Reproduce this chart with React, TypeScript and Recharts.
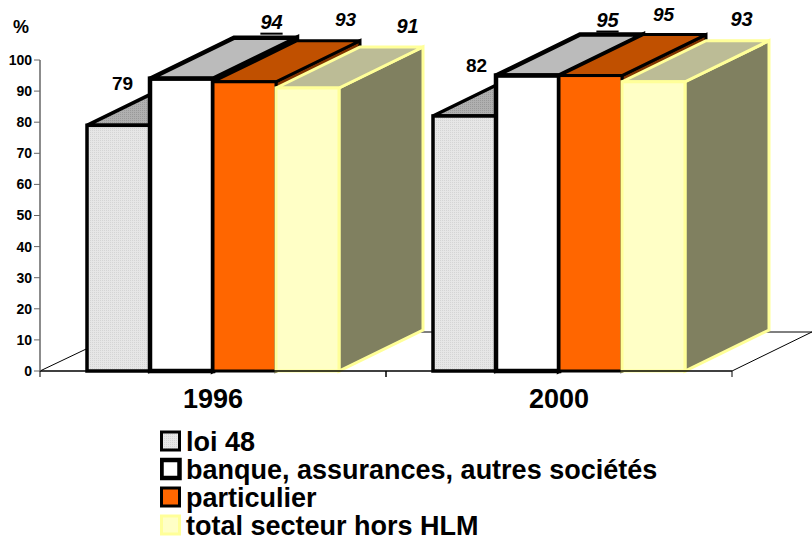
import { Bar, BarChart, LabelList, Legend, XAxis, YAxis } from "recharts";

const FONT = "'Liberation Sans', Arial, sans-serif";

const years = ["1996", "2000"];
const loi48 = [79, 82];
const banque = [94, 95];
const particulier = [93, 95];
const totalHorsHlm = [91, 93];
const yTicks = [0, 10, 20, 30, 40, 50, 60, 70, 80, 90, 100];

const chartData = years.map((year, i) => ({
    year,
    loi48: loi48[i],
    banque: banque[i],
    particulier: particulier[i],
    totalHorsHlm: totalHorsHlm[i],
}));

// depth of the fake 3D extrusion
const DEPTH_X = 84;
const DEPTH_Y = -41;
const BAND = 346;

const seriesList = [
    {
        key: "loi48",
        name: "loi 48",
        front: "url(#dotsLight)",
        top: "url(#dotsDark)",
        side: "#999999",
        stroke: "#000000",
        strokeWidth: 3.5,
        legendStroke: 3,
        labelFont: { size: 19, italic: false, underline: false },
        labelShift: [[4, -42], [12, -50]],
    },
    {
        key: "banque",
        name: "banque, assurances, autres sociétés",
        front: "#ffffff",
        top: "#bbbbbb",
        side: "#808080",
        stroke: "#000000",
        strokeWidth: 4.5,
        legendStroke: 4.5,
        labelFont: { size: 20, italic: true, underline: true },
        labelShift: [[90, -57], [80, -56]],
    },
    {
        key: "particulier",
        name: "particulier",
        front: "#ff6600",
        top: "#c05000",
        side: "#803300",
        stroke: "#000000",
        strokeWidth: 3,
        legendStroke: 3,
        labelFont: { size: 19, italic: true, underline: false },
        labelShift: [[101, -62], [73, -61]],
    },
    {
        key: "totalHorsHlm",
        name: "total secteur hors HLM",
        front: "#ffffc6",
        top: "#bcbc96",
        side: "#808060",
        stroke: "#ffff99",
        strokeWidth: 3,
        legendStroke: 3,
        labelFont: { size: 20, italic: true, underline: false },
        labelShift: [[100, -62], [88, -63]],
    },
];

type Series = (typeof seriesList)[number];

function box3d(series: Series) {
    return function Box(props: any) {
        const { x, y, width, height } = props;
        const right = x + width;
        const bottom = y + height;
        const line = {
            stroke: series.stroke,
            strokeWidth: series.strokeWidth,
            strokeLinejoin: "miter" as const,
        };
        return (
            <g>
                <path
                    d={`M${right},${y} L${right + DEPTH_X},${y + DEPTH_Y} L${right + DEPTH_X},${bottom + DEPTH_Y} L${right},${bottom} Z`}
                    fill={series.side}
                    {...line}
                />
                <path
                    d={`M${x},${y} L${x + DEPTH_X},${y + DEPTH_Y} L${right + DEPTH_X},${y + DEPTH_Y} L${right},${y} Z`}
                    fill={series.top}
                    {...line}
                />
                <rect x={x} y={y} width={width} height={height} fill={series.front} {...line} />
            </g>
        );
    };
}

function valueLabel(series: Series) {
    return function ValueLabel(props: any) {
        const { x, y, width, value, index } = props;
        const [dx, dy] = series.labelShift[index];
        const font = series.labelFont;
        return (
            <text
                x={x + width / 2 + dx}
                y={y + dy}
                textAnchor="middle"
                dominantBaseline="central"
                fontFamily={FONT}
                fontWeight="bold"
                fontSize={font.size}
                fontStyle={font.italic ? "italic" : "normal"}
                textDecoration={font.underline ? "underline" : "none"}
                style={font.underline ? { textDecorationThickness: "2.5px" } : undefined}
                fill="#000000"
            >
                {value}
            </text>
        );
    };
}

function YearTick(props: any) {
    const { x, y, payload } = props;
    return (
        <g>
            <line x1={x - BAND / 2} x2={x - BAND / 2} y1={y - 8} y2={y - 2} stroke="#000000" />
            <line x1={x + BAND / 2} x2={x + BAND / 2} y1={y - 8} y2={y - 2} stroke="#000000" />
            <text
                x={x}
                y={y + 29}
                textAnchor="middle"
                fontFamily={FONT}
                fontWeight="bold"
                fontSize={27}
                fill="#000000"
            >
                {payload.value}
            </text>
        </g>
    );
}

function LegendBlock() {
    return (
        <div style={{ fontFamily: FONT, fontWeight: "bold", fontSize: 27, lineHeight: "28px", color: "#000" }}>
            {seriesList.map((s) => (
                <div key={s.key} style={{ display: "flex", alignItems: "center", height: 28 }}>
                    <svg width={26} height={28} style={{ flex: "none" }}>
                        <rect
                            x={1.5}
                            y={4}
                            width={18}
                            height={18}
                            fill={s.front}
                            stroke={s.stroke}
                            strokeWidth={s.legendStroke}
                        />
                    </svg>
                    <span style={{ whiteSpace: "nowrap" }}>{s.name}</span>
                </div>
            ))}
        </div>
    );
}

export default function App() {
    return (
        <div style={{ position: "absolute", left: 0, top: 0, width: 812, height: 537, overflow: "hidden" }}>
            <BarChart
                width={812}
                height={537}
                data={chartData}
                margin={{ top: 60, right: 80, bottom: 24, left: 0 }}
                barCategoryGap={47}
                barGap={0}
            >
                <defs>
                    <pattern id="dotsLight" width={2} height={2} patternUnits="userSpaceOnUse">
                        <rect width={2} height={2} fill="#e6e6e6" />
                        <rect width={1} height={1} fill="#d4d4d4" />
                    </pattern>
                    <pattern id="dotsDark" width={2} height={2} patternUnits="userSpaceOnUse">
                        <rect width={2} height={2} fill="#b0b0b0" />
                        <rect width={1} height={1} fill="#999999" />
                    </pattern>
                </defs>

                {/* floor of the 3D box */}
                <line x1={40} y1={371} x2={124} y2={331} stroke="#000000" />
                <line x1={124} y1={332} x2={812} y2={332} stroke="#000000" />
                <line x1={732} y1={371} x2={816} y2={330} stroke="#000000" />

                <text x={21} y={33} textAnchor="middle" fontFamily={FONT} fontWeight="bold" fontSize={18} fill="#000000">
                    %
                </text>

                <XAxis
                    dataKey="year"
                    axisLine={{ stroke: "#000000", strokeWidth: 1.5 }}
                    tickLine={false}
                    tick={<YearTick />}
                    interval={0}
                />
                <YAxis
                    width={40}
                    domain={[0, 100]}
                    ticks={yTicks}
                    interval={0}
                    axisLine={{ stroke: "#666666", strokeWidth: 1.5 }}
                    tickLine={{ stroke: "#666666" }}
                    tickSize={6}
                    tickMargin={2}
                    tick={{ fontFamily: FONT, fontWeight: "bold", fontSize: 14, fill: "#000000" }}
                />
                {seriesList.map((s) => (
                    <Bar
                        key={s.key}
                        dataKey={s.key}
                        name={s.name}
                        fill={s.front}
                        shape={box3d(s)}
                        isAnimationActive={false}
                    >
                        <LabelList dataKey={s.key} content={valueLabel(s)} />
                    </Bar>
                ))}
                <Legend
                    content={<LegendBlock />}
                    wrapperStyle={{ position: "absolute", left: 160, top: 428, width: 600 }}
                />
            </BarChart>
        </div>
    );
}
